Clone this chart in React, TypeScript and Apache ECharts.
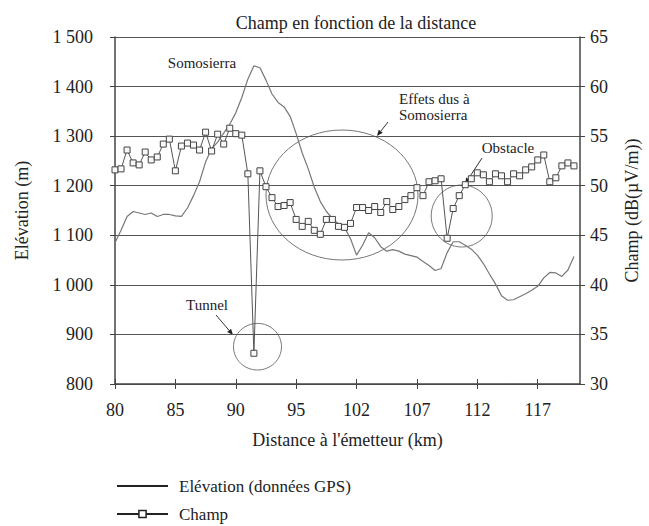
import React, { useEffect, useRef } from 'react';
import * as echarts from 'echarts';

const xTickLabels = ['80', '85', '90', '95', '102', '107', '112', '117'];
const categoryCount = 78;

const champ = [
  51.6, 51.7, 53.6, 52.3, 52.1, 53.4, 52.6, 52.9, 54.2, 54.7,
  51.5, 54.0, 54.3, 54.1, 53.6, 55.4, 53.5, 55.2, 54.2, 55.8,
  55.25, 55.1, 51.2, 33.1, 51.5, 49.9, 48.8, 47.9, 48.0, 48.3,
  46.6, 45.9, 46.4, 45.5, 45.1, 46.6, 46.6, 45.9, 45.8, 46.2,
  47.8, 47.8, 47.5, 47.9, 47.3, 48.4, 47.6, 47.9, 48.6, 49.0,
  49.8, 49.0, 50.4, 50.5, 50.7, 44.7, 47.7, 49.0, 50.1, 50.7,
  51.3, 51.1, 50.4, 51.2, 51.0, 50.4, 51.2, 51.0, 51.6, 51.9,
  52.6, 53.1, 50.4, 50.8, 52.0, 52.3, 52.0,
];

const elevation = [
  1085, 1110, 1138, 1148, 1145, 1142, 1145, 1138, 1142, 1142,
  1139, 1138, 1155, 1180, 1208, 1248, 1275, 1288, 1306, 1324,
  1347, 1378, 1415, 1442, 1438, 1413, 1385, 1368, 1359, 1340,
  1305, 1266, 1234, 1197, 1168, 1148, 1134, 1123, 1116, 1093,
  1060, 1080, 1105, 1095, 1077, 1068, 1071, 1068, 1062, 1059,
  1056, 1047, 1039, 1029, 1033, 1065, 1087, 1087, 1080, 1072,
  1060, 1043, 1022, 1002, 978, 969, 970, 976, 982, 989,
  997, 1014, 1025, 1024, 1017, 1030, 1057,
];

const FONT = '"Liberation Serif", "Times New Roman", serif';
const TXT = '#222';

function arrow(x1: number, y1: number, x2: number, y2: number) {
  const ang = Math.atan2(y2 - y1, x2 - x1);
  const L = 6;
  const W = 2.5;
  const bx = x2 - L * Math.cos(ang);
  const by = y2 - L * Math.sin(ang);
  const px = -Math.sin(ang) * W;
  const py = Math.cos(ang) * W;
  return [
    { type: 'line', shape: { x1, y1, x2: bx, y2: by }, style: { stroke: '#333', lineWidth: 1 } },
    {
      type: 'polygon',
      shape: { points: [[x2, y2], [bx + px, by + py], [bx - px, by - py]] },
      style: { fill: '#222' },
    },
  ];
}

function label(text: string, x: number, y: number, align = 'center', lineHeight = 16) {
  return {
    type: 'text',
    x,
    y,
    style: {
      text,
      fontFamily: FONT,
      fontSize: 15,
      fill: TXT,
      align,
      verticalAlign: 'middle',
      lineHeight,
    },
  };
}

function ring(cx: number, cy: number, rx: number, ry: number) {
  return {
    type: 'ellipse',
    shape: { cx, cy, rx, ry },
    style: { fill: 'none', stroke: '#777', lineWidth: 1 },
  };
}

export default function App() {
  const ref = useRef<HTMLDivElement>(null);

  useEffect(() => {
    if (!ref.current) return;
    document.body.style.margin = '0';
    const chart = echarts.init(ref.current, null, { renderer: 'svg', width: 649, height: 526 });
    const categories = Array.from({ length: categoryCount }, (_, i) => String(i));
    const axisText = { fontFamily: FONT, fontSize: 18, color: TXT };

    chart.setOption({
      animation: false,
      backgroundColor: '#fff',
      title: {
        text: 'Champ en fonction de la distance',
        left: 351,
        top: 9,
        textAlign: 'center',
        textStyle: { fontFamily: FONT, fontSize: 18, fontWeight: 'normal', color: TXT },
      },
      grid: { left: 115, right: 61, top: 37, bottom: 142, containLabel: false },
      legend: {
        orient: 'vertical',
        left: 116,
        top: 477,
        padding: 0,
        itemWidth: 51,
        itemHeight: 9,
        itemGap: 10,
        textStyle: { fontFamily: FONT, fontSize: 17, color: TXT, lineHeight: 18, padding: [0, 0, 0, 6] },
        lineStyle: { color: '#222', width: 2 },
        data: [
          {
            name: 'Elévation (données GPS)',
            itemStyle: { color: 'rgba(0,0,0,0)', borderColor: 'rgba(0,0,0,0)', borderWidth: 0, opacity: 0 },
          },
          { name: 'Champ', itemStyle: { color: '#fff', borderColor: '#222', borderWidth: 1.5 } },
        ],
      },
      xAxis: [
        {
          type: 'category',
          data: categories,
          boundaryGap: false,
          axisLine: { lineStyle: { color: '#444', width: 1.5 } },
          axisTick: { interval: 9, length: 5, lineStyle: { color: '#444' } },
          axisLabel: {
            interval: 9,
            margin: 17,
            ...axisText,
            formatter: (_v: string, idx: number) =>
              idx % 10 === 0 && xTickLabels[idx / 10] ? xTickLabels[idx / 10] : '',
          },
          splitLine: { show: false },
          name: "Distance à l'émetteur (km)",
          nameLocation: 'middle',
          nameGap: 47,
          nameTextStyle: axisText,
        },
        {
          type: 'category',
          data: categories,
          boundaryGap: false,
          position: 'bottom',
          axisLine: { show: false },
          axisTick: { inside: true, interval: 9, length: 5, lineStyle: { color: '#444' } },
          axisLabel: { show: false },
          splitLine: { show: false },
        },
      ],
      yAxis: [
        {
          type: 'value',
          min: 800,
          max: 1500,
          interval: 100,
          position: 'left',
          axisLine: { show: true, lineStyle: { color: '#444', width: 1.5 } },
          axisTick: { show: true, length: 5, lineStyle: { color: '#444' } },
          axisLabel: {
            margin: 22,
            ...axisText,
            formatter: (v: number) =>
              v >= 1000 ? `${Math.floor(v / 1000)} ${String(v % 1000).padStart(3, '0')}` : String(v),
          },
          splitLine: { show: true, lineStyle: { color: '#555', width: 1.2 } },
          name: 'Elévation (m)',
          nameLocation: 'middle',
          nameRotate: 90,
          nameGap: 84,
          nameTextStyle: axisText,
        },
        {
          type: 'value',
          min: 30,
          max: 65,
          interval: 5,
          position: 'right',
          axisLine: { show: true, lineStyle: { color: '#444', width: 1.5 } },
          axisTick: { show: true, length: 5, lineStyle: { color: '#444' } },
          axisLabel: { margin: 10, ...axisText },
          splitLine: { show: false },
          name: 'Champ (dB(µV/m))',
          nameLocation: 'middle',
          nameRotate: 90,
          nameGap: 43,
          nameTextStyle: axisText,
        },
      ],
      series: [
        {
          name: 'Elévation (données GPS)',
          type: 'line',
          xAxisIndex: 0,
          yAxisIndex: 0,
          data: elevation,
          symbol: 'none',
          lineStyle: { color: '#777', width: 1.2 },
          itemStyle: { color: '#777' },
        },
        {
          name: 'Champ',
          type: 'line',
          xAxisIndex: 0,
          yAxisIndex: 1,
          data: champ,
          symbol: 'rect',
          symbolSize: 6,
          showAllSymbol: true,
          lineStyle: { color: '#555', width: 1 },
          itemStyle: { color: '#f8f8f8', borderColor: '#444', borderWidth: 1 },
        },
      ],
      graphic: [
        label('Somosierra', 202, 63),
        ring(342, 195, 76, 65),
        ...arrow(388, 122, 377, 136),
        label('Effets dus à\nSomosierra', 399, 107, 'left'),
        ring(461.7, 216, 30.5, 31),
        ...arrow(482, 158, 465, 184),
        label('Obstacle', 508, 148),
        ring(257.5, 346.7, 24, 23.3),
        ...arrow(216, 315, 233, 335),
        label('Tunnel', 207, 304.5),
      ],
    });

    return () => chart.dispose();
  }, []);

  return (
    <div
      ref={ref}
      style={{ position: 'fixed', left: 0, top: 0, width: 649, height: 526, background: '#fff' }}
    />
  );
}
